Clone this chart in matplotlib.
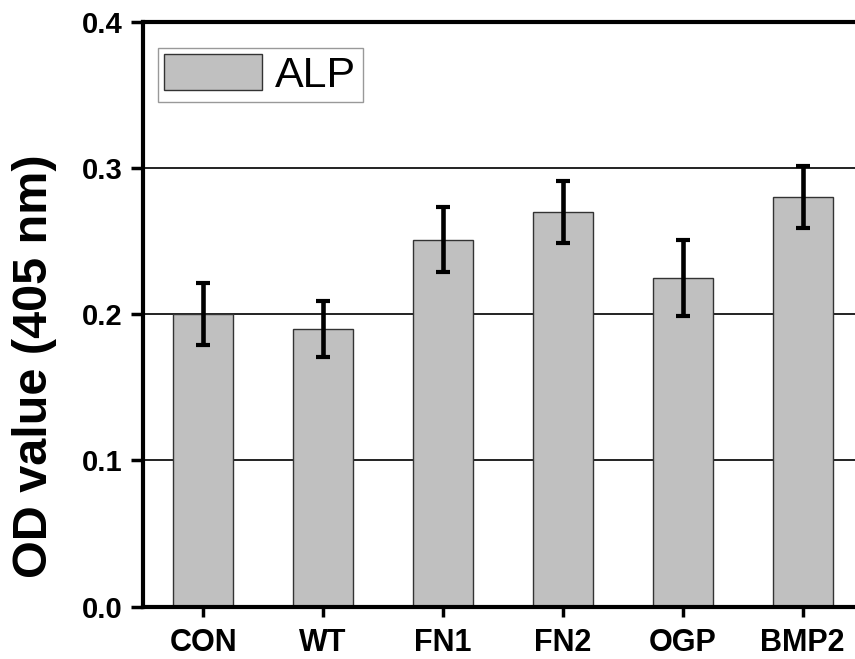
import matplotlib
matplotlib.use('Agg')
import matplotlib.pyplot as plt
import numpy as np

# ---- data ----
groups = ['CON', 'WT', 'FN1', 'FN2', 'OGP', 'BMP2']
alp_mean = [0.200, 0.190, 0.251, 0.270, 0.225, 0.280]
alp_err = [0.021, 0.019, 0.022, 0.021, 0.026, 0.021]
y_ticks = [0.0, 0.1, 0.2, 0.3, 0.4]

plt.rcParams['font.family'] = ['Liberation Sans', 'DejaVu Sans']

fig = plt.figure(figsize=(8.55, 6.59), dpi=100)
# axes runs slightly past the right edge like the cropped original
ax = fig.add_axes([143.3 / 855, 52.3 / 659, 719.4 / 855, 585 / 659])

x = np.arange(len(groups))
ax.bar(x, alp_mean, width=0.5, color='#c0c0c0', edgecolor='#333333',
       linewidth=1.0, zorder=2, label='ALP')
ax.errorbar(x, alp_mean, yerr=alp_err, fmt='none', ecolor='black',
            elinewidth=3.3, capsize=5.3, capthick=3.0, zorder=3)

ax.set_xlim(-0.5, 5.5)
ax.set_ylim(0, 0.4)
ax.set_xticks(x)
ax.set_xticklabels(groups, fontsize=22, fontweight='bold')
ax.set_yticks(y_ticks)
ax.set_yticklabels([f'{v:.1f}' for v in y_ticks], fontsize=21, fontweight='bold')

# horizontal grid lines at the inner ticks
for v in y_ticks[1:-1]:
    ax.axhline(v, color='#222222', linewidth=1.4, zorder=1)

for side in ['left', 'bottom', 'top', 'right']:
    ax.spines[side].set_linewidth(3.0)
ax.tick_params(axis='y', direction='out', length=9, width=2.5, pad=6)
ax.tick_params(axis='x', direction='out', length=7, width=2.5, pad=8)

fig.text(35 / 855, 1 - 366 / 659, 'OD value (405 nm)', rotation=90,
         ha='center', va='center', fontsize=35, fontweight='bold')

leg = ax.legend(loc='upper left', bbox_to_anchor=(0.020, 0.9556),
                fontsize=31, frameon=True, fancybox=False, framealpha=1,
                handlelength=2.28, handleheight=0.9, handletextpad=0.3,
                borderpad=0.15, borderaxespad=0)
leg.get_frame().set_edgecolor('#999999')
leg.get_frame().set_linewidth(1.0)

fig.savefig('out.png', dpi=100)
